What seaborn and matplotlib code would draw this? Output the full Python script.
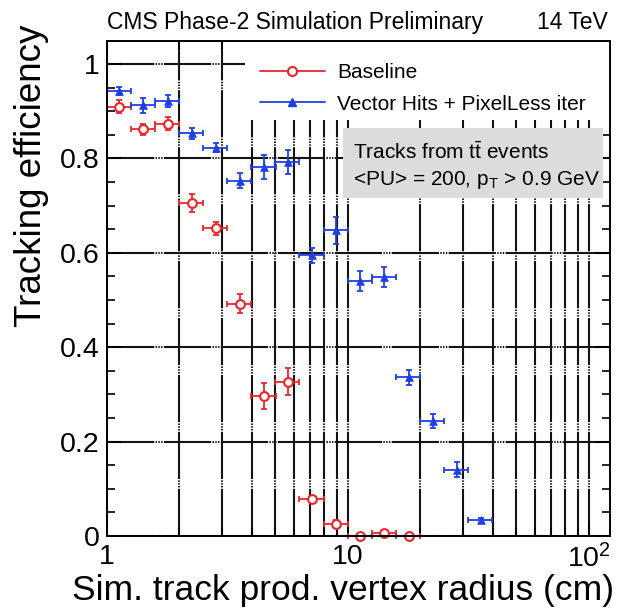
import numpy as np
import pandas as pd
import matplotlib
matplotlib.use("Agg")
import matplotlib.pyplot as plt
import seaborn as sns
from matplotlib.lines import Line2D
from matplotlib.patches import Rectangle
from matplotlib.ticker import FixedLocator, FixedFormatter, MultipleLocator, NullFormatter

# ---- data ----
radius = [1.13, 1.42, 1.79, 2.25, 2.84, 3.57, 4.50, 5.66, 7.13, 8.97,
          11.3, 14.2, 17.9, 22.5, 28.4, 35.7]
radius_err = [0.13, 0.16, 0.21, 0.26, 0.33, 0.41, 0.52, 0.65, 0.82, 1.03,
              1.30, 1.63, 2.05, 2.58, 3.25, 4.10]
baseline_eff = [0.910, 0.862, 0.874, 0.705, 0.652, 0.492, 0.297, 0.327, 0.078,
                0.025, 0.0, 0.007, 0.0]
baseline_err = [0.013, 0.012, 0.013, 0.019, 0.014, 0.020, 0.027, 0.028, 0.007,
                0.008, 0.003, 0.004, 0.003]
vector_eff = [0.943, 0.913, 0.922, 0.853, 0.823, 0.753, 0.782, 0.792, 0.595,
              0.648, 0.541, 0.549, 0.336, 0.244, 0.140, 0.033]
vector_err = [0.008, 0.016, 0.013, 0.012, 0.010, 0.016, 0.025, 0.025, 0.016,
              0.029, 0.021, 0.021, 0.016, 0.015, 0.016, 0.005]
x_tick_values = [1, 10, 100]
x_tick_labels = ["1", "10", r"$\mathregular{10^2}$"]
y_tick_values = [0, 0.2, 0.4, 0.6, 0.8, 1]
y_tick_labels = ["0", "0.2", "0.4", "0.6", "0.8", "1"]
series_names = ["Baseline", "Vector Hits + PixelLess iter"]

RED = "#e8262c"
BLUE = "#1f3fe6"

sns.set_theme(style="ticks")
plt.rcParams["font.family"] = ["Liberation Sans", "DejaVu Sans"]
plt.rcParams["mathtext.fontset"] = "custom"
plt.rcParams["mathtext.rm"] = "Liberation Sans"
plt.rcParams["mathtext.it"] = "Liberation Sans:italic"
plt.rcParams["lines.scale_dashes"] = False
for k in ("text.color", "axes.labelcolor", "xtick.color", "ytick.color",
          "xtick.labelcolor", "ytick.labelcolor"):
    plt.rcParams[k] = "black"

n_b = len(baseline_eff)
df_b = pd.DataFrame({"r": radius[:n_b], "rerr": radius_err[:n_b],
                     "eff": baseline_eff, "err": baseline_err,
                     "series": series_names[0]})
df_v = pd.DataFrame({"r": radius, "rerr": radius_err,
                     "eff": vector_eff, "err": vector_err,
                     "series": series_names[1]})

fig = plt.figure(figsize=(6.25, 6.08), dpi=100)
ax = fig.add_axes([0.1707, 0.1184, 0.8053, 0.8142])

ax.set_xscale("log")
ax.set_xlim(1, 122.6)
ax.set_ylim(0, 1.049)

# grid (ROOT-like dashed black lines)
ax.set_axisbelow(True)
grid_ls = (0, (34, 1.0, 1.0, 1.0, 1.0, 1.0, 1.0, 1.0))
ax.grid(True, which="both", axis="x", color="#141414", lw=1.5, ls=grid_ls)
ax.grid(True, which="major", axis="y", color="#141414", lw=1.5, ls=grid_ls)

# white legend area and gray info box (cover grid)
ax.add_patch(Rectangle((0.275, 0.840), 0.725, 0.160, transform=ax.transAxes,
                       facecolor="white", edgecolor="none", zorder=1.5))
ax.add_patch(Rectangle((0.4695, 0.683), 0.5165, 0.141, transform=ax.transAxes,
                       facecolor="#dcdcdc", edgecolor="none", zorder=1.5))

# error bars
for d, c in [(df_b, RED), (df_v, BLUE)]:
    ax.errorbar(d["r"], d["eff"], xerr=d["rerr"], yerr=d["err"], fmt="none",
                ecolor=c, elinewidth=1.3, capsize=2.2, capthick=1.3,
                zorder=3, clip_on=False)

sns.scatterplot(data=df_b, x="r", y="eff", ax=ax, marker="o", s=40,
                facecolor="white", edgecolor=RED, linewidth=1.5, zorder=4,
                clip_on=False, legend=False)
sns.scatterplot(data=df_v, x="r", y="eff", ax=ax, marker="^", s=30,
                color=BLUE, edgecolor=BLUE, linewidth=0.6, zorder=4,
                clip_on=False, legend=False)

ax.set_xlabel("")
ax.set_ylabel("")

# ticks
ax.xaxis.set_major_locator(FixedLocator(x_tick_values))
ax.xaxis.set_major_formatter(FixedFormatter(x_tick_labels))
minor_x = [k * 10 ** e for e in (0, 1) for k in range(2, 10)]
ax.xaxis.set_minor_locator(FixedLocator(minor_x))
ax.xaxis.set_minor_formatter(NullFormatter())
ax.yaxis.set_major_locator(FixedLocator(y_tick_values))
ax.yaxis.set_major_formatter(FixedFormatter(y_tick_labels))
ax.yaxis.set_minor_locator(MultipleLocator(0.05))
ax.tick_params(which="both", direction="in", top=True, right=True,
               color="black", width=1.2)
ax.tick_params(which="major", length=11, labelsize=20.5)
ax.tick_params(which="minor", length=6)
ax.tick_params(axis="y", which="major", pad=5)
ax.tick_params(axis="x", which="major", pad=6)
for s in ax.spines.values():
    s.set_linewidth(1.4)
    s.set_color("black")
    s.set_zorder(5)

# legend
handles = [
    Line2D([], [], color=RED, lw=1.3, marker="o", ms=6.5, mfc="white",
           mec=RED, mew=1.5),
    Line2D([], [], color=BLUE, lw=1.3, marker="^", ms=5.5, mfc=BLUE, mec=BLUE),
]
leg = ax.legend(handles, series_names, loc="upper left",
                bbox_to_anchor=(0.3046, 0.955), frameon=False, fontsize=15,
                handlelength=3.1, handletextpad=0.6, labelspacing=0.6,
                borderpad=0, borderaxespad=0)
leg.set_zorder(6)

# info box text
ax.text(0.4893, 0.776, r"Tracks from $\mathregular{t\bar{t}}$ events",
        transform=ax.transAxes, fontsize=15, va="center", ha="left", zorder=6)
ax.text(0.4893, 0.720, r"<PU> = 200, $\mathregular{p_T}$ > 0.9 GeV",
        transform=ax.transAxes, fontsize=15, va="center", ha="left", zorder=6)

# header
fig.text(0.171, 0.9638, "CMS Phase-2 Simulation Preliminary", fontsize=16.5,
         ha="left", va="center")
fig.text(0.973, 0.9638, "14 TeV", fontsize=16.5, ha="right", va="center")

# axis titles
fig.text(0.0512, 0.959, "Tracking efficiency", rotation=90, fontsize=26.5,
         ha="center", va="top")
fig.text(0.982, 0.0125, "Sim. track prod. vertex radius (cm)", fontsize=25.5,
         ha="right", va="baseline")

fig.savefig("out.png", dpi=100)
